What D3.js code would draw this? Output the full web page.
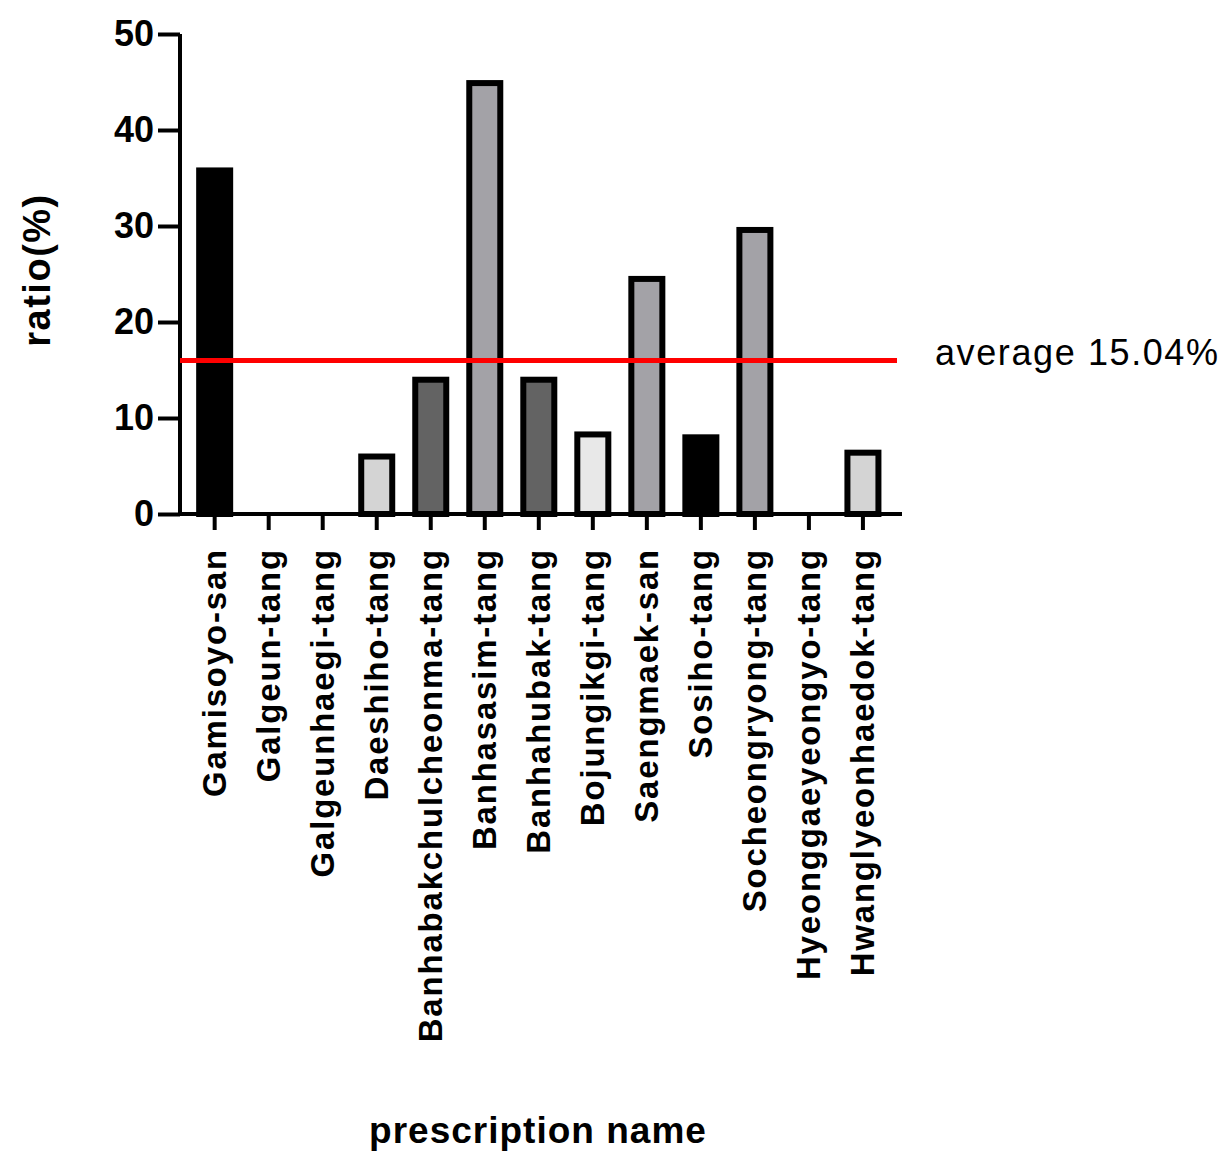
<!DOCTYPE html>
<html>
<head>
<meta charset="utf-8">
<script src="https://cdn.jsdelivr.net/npm/d3@7"></script>
<style>
  body { margin: 0; background: #fff; }
  svg text { font-family: "Liberation Sans", Arial, sans-serif; }
</style>
</head>
<body>
<div id="chart"></div>
<script>
// prescription names on the x axis
var categories = ["Gamisoyo-san", "Galgeun-tang", "Galgeunhaegi-tang", "Daeshiho-tang",
    "Banhabakchulcheonma-tang", "Banhasasim-tang", "Banhahubak-tang", "Bojungikgi-tang",
    "Saengmaek-san", "Sosiho-tang", "Socheongryong-tang", "Hyeonggaeyeongyo-tang", "Hwanglyeonhaedok-tang"];
// ratio (%)
var ratios = [36.1, 0, 0, 6.3, 14.3, 45.2, 14.3, 8.6, 24.8, 8.3, 29.9, 0, 6.7];
var barFills = ["#000000", "#ffffff", "#ffffff", "#d4d4d4", "#636363", "#a3a2a7",
    "#636363", "#e8e8e8", "#a3a2a7", "#000000", "#a3a2a7", "#ffffff", "#d4d4d4"];
var yTicks = [0, 10, 20, 30, 40, 50];
// where the red line is drawn, and its label
var averageLine = 16;
var averageLabel = "average 15.04%";

var width = 1232, height = 1170;
var svg = d3.select("#chart").append("svg").attr("width", width).attr("height", height);

var x = d3.scaleBand().domain(categories).range([180, 902])
    .paddingInner(0.315).paddingOuter(0.34).align(0.44);
var y = d3.scaleLinear().domain([0, 50]).range([514, 34]);

var stroke = 6;
var data = categories.map(function(c, i) {
    return { name: c, value: ratios[i], fill: barFills[i] };
});

// bars (border kept inside the bar outline)
svg.append("g").selectAll("rect")
    .data(data.filter(function(d) { return d.value > 0; }))
    .enter()
    .append("rect")
    .attr("x", function(d) { return x(d.name) + stroke / 2; })
    .attr("y", function(d) { return y(d.value) + stroke / 2; })
    .attr("width", x.bandwidth() - stroke)
    .attr("height", function(d) { return y(0) - y(d.value) - stroke / 2; })
    .style("fill", function(d) { return d.fill; })
    .style("stroke", "#000")
    .style("stroke-width", stroke);

// y axis
var yAxis = svg.append("g")
    .attr("transform", "translate(180,0)")
    .call(d3.axisLeft(y).tickValues(yTicks).tickSize(22).tickSizeOuter(0).tickPadding(4));
yAxis.select(".domain").attr("stroke-width", 4).attr("d", "M0," + (y(0) + 2) + "V" + y(50));
yAxis.selectAll(".tick line").attr("stroke-width", 4);
yAxis.selectAll(".tick text")
    .style("font-size", "36px").style("font-weight", "bold").attr("fill", "#000");

// x axis
var xAxis = svg.append("g")
    .attr("transform", "translate(0," + y(0) + ")")
    .call(d3.axisBottom(x).tickSize(16).tickSizeOuter(0));
xAxis.select(".domain").attr("stroke-width", 4).attr("d", "M178,0H902");
xAxis.selectAll(".tick line").attr("stroke-width", 4);
xAxis.selectAll(".tick text")
    .attr("transform", "rotate(-90)")
    .attr("x", -34)
    .attr("y", 0)
    .attr("dy", "0.33em")
    .style("text-anchor", "end")
    .style("font-size", "33px")
    .style("font-weight", "bold")
    .style("letter-spacing", "1.8px")
    .attr("fill", "#000");

// average line
svg.append("line")
    .attr("x1", 180).attr("x2", 897)
    .attr("y1", y(averageLine)).attr("y2", y(averageLine))
    .style("stroke", "#ff0000")
    .style("stroke-width", 5);
svg.append("text")
    .attr("x", 935).attr("y", y(averageLine) + 5)
    .style("font-size", "36px")
    .style("letter-spacing", "1.6px")
    .attr("fill", "#000")
    .text(averageLabel);

// axis titles
svg.append("text")
    .attr("transform", "translate(50,270) rotate(-90)")
    .style("text-anchor", "middle")
    .style("font-size", "38px")
    .style("font-weight", "bold")
    .style("letter-spacing", "1.5px")
    .text("ratio(%)");
svg.append("text")
    .attr("x", 538).attr("y", 1143)
    .style("text-anchor", "middle")
    .style("font-size", "37px")
    .style("font-weight", "bold")
    .style("letter-spacing", "1px")
    .text("prescription name");
</script>
</body>
</html>
